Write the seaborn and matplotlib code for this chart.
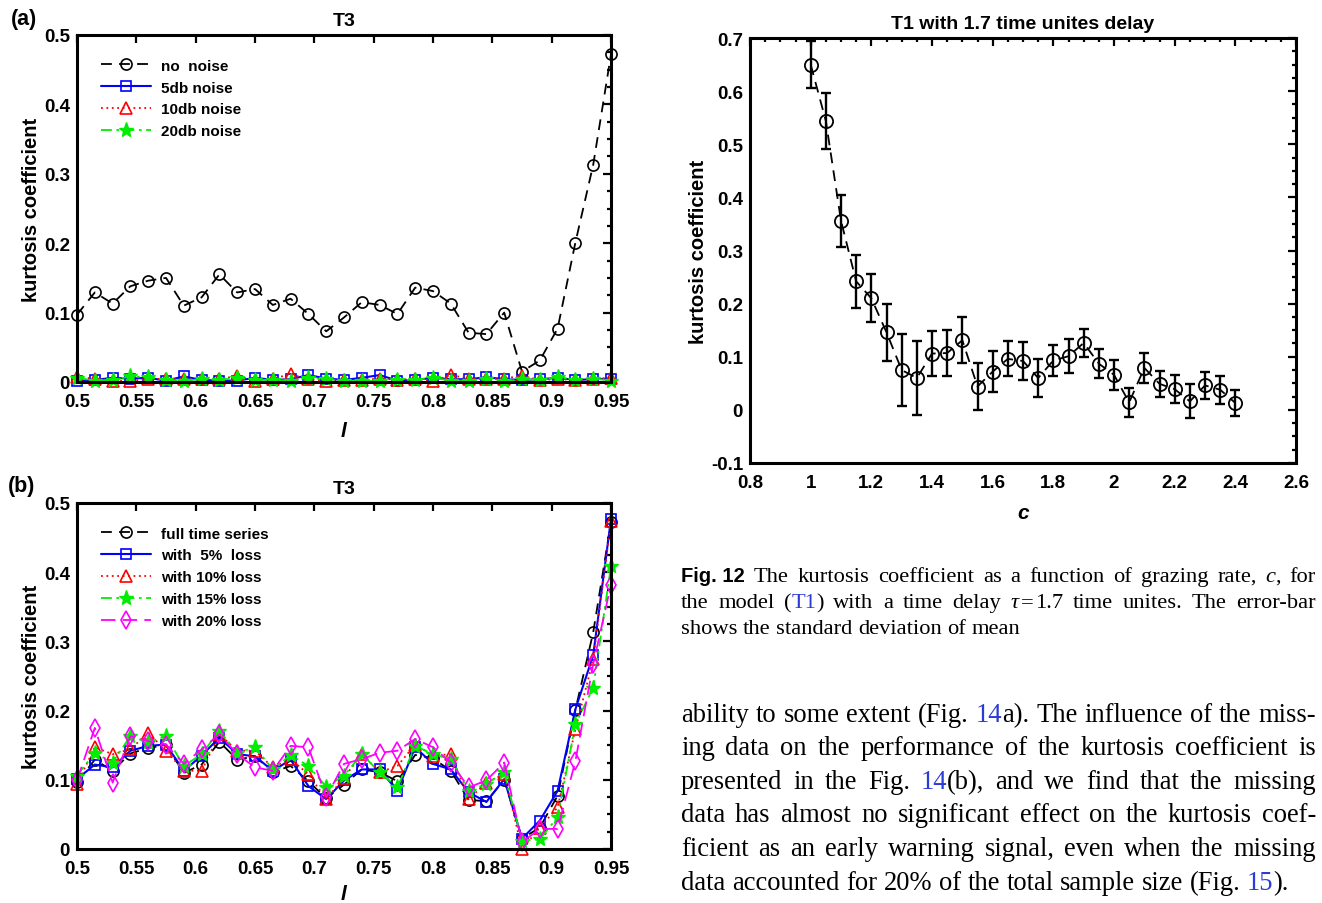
import numpy as np
import pandas as pd
import matplotlib
matplotlib.use("Agg")
import matplotlib.pyplot as plt
import seaborn as sns
from matplotlib.ticker import MultipleLocator, FuncFormatter
from matplotlib.transforms import IdentityTransform

# ---------------- data ----------------
l_vals = [0.5, 0.515, 0.53, 0.545, 0.56, 0.575, 0.59, 0.605, 0.62, 0.635,
          0.65, 0.665, 0.68, 0.695, 0.71, 0.725, 0.74, 0.755, 0.77, 0.785,
          0.8, 0.815, 0.83, 0.845, 0.86, 0.875, 0.89, 0.905, 0.92, 0.935, 0.95]

no_noise = [0.097, 0.129, 0.113, 0.138, 0.146, 0.150, 0.110, 0.122, 0.155, 0.129,
            0.134, 0.111, 0.120, 0.098, 0.073, 0.093, 0.115, 0.111, 0.098, 0.136,
            0.131, 0.113, 0.071, 0.069, 0.100, 0.015, 0.031, 0.077, 0.201, 0.313, 0.472]
noise_5db = [0.001, 0.003, 0.006, 0.005, 0.006, 0.002, 0.008, 0.003, 0.002, 0.002,
             0.006, 0.003, 0.004, 0.010, 0.005, 0.003, 0.006, 0.010, 0.002, 0.003,
             0.006, 0.004, 0.004, 0.007, 0.004, 0.003, 0.004, 0.006, 0.003, 0.004, 0.005]
noise_10db = [0.007, 0.005, 0.002, 0.001, 0.005, 0.004, 0.004, 0.004, 0.004, 0.009,
              0.002, 0.005, 0.011, 0.004, 0.002, 0.003, 0.003, 0.005, 0.003, 0.005,
              0.001, 0.010, 0.005, 0.004, 0.005, 0.009, 0.003, 0.004, 0.003, 0.004, 0.006]
noise_20db = [0.006, 0.002, 0.003, 0.008, 0.007, 0.003, 0.002, 0.004, 0.003, 0.006,
              0.003, 0.003, 0.002, 0.006, 0.004, 0.002, 0.001, 0.002, 0.003, 0.003,
              0.006, 0.002, 0.002, 0.004, 0.001, 0.004, 0.003, 0.007, 0.003, 0.005, 0.002]

full_series = no_noise
loss_5 = [0.101, 0.122, 0.118, 0.142, 0.149, 0.151, 0.113, 0.135, 0.161, 0.137,
          0.134, 0.113, 0.129, 0.091, 0.072, 0.099, 0.115, 0.115, 0.084, 0.147,
          0.123, 0.115, 0.082, 0.068, 0.101, 0.015, 0.041, 0.084, 0.202, 0.280, 0.477]
loss_10 = [0.094, 0.147, 0.137, 0.144, 0.168, 0.142, 0.113, 0.113, 0.166, 0.142,
           0.142, 0.118, 0.130, 0.108, 0.072, 0.103, 0.137, 0.111, 0.120, 0.151,
           0.135, 0.137, 0.072, 0.096, 0.108, 0.000, 0.031, 0.060, 0.173, 0.274, 0.474]
loss_15 = [0.106, 0.139, 0.125, 0.163, 0.154, 0.163, 0.120, 0.137, 0.171, 0.139,
           0.147, 0.115, 0.136, 0.120, 0.090, 0.106, 0.137, 0.111, 0.089, 0.149,
           0.137, 0.130, 0.084, 0.094, 0.111, 0.012, 0.014, 0.046, 0.180, 0.233, 0.409]
loss_20 = [0.099, 0.175, 0.096, 0.163, 0.156, 0.151, 0.123, 0.144, 0.166, 0.137,
           0.118, 0.113, 0.149, 0.147, 0.075, 0.123, 0.130, 0.139, 0.142, 0.159,
           0.147, 0.125, 0.089, 0.099, 0.125, 0.010, 0.029, 0.029, 0.127, 0.267, 0.382]

c_vals = [1.0, 1.05, 1.1, 1.15, 1.2, 1.25, 1.3, 1.35, 1.4, 1.45, 1.5, 1.55, 1.6,
          1.65, 1.7, 1.75, 1.8, 1.85, 1.9, 1.95, 2.0, 2.05, 2.1, 2.15, 2.2, 2.25,
          2.3, 2.35, 2.4]
kurt_c = [0.650, 0.544, 0.356, 0.242, 0.210, 0.146, 0.075, 0.060, 0.106, 0.107,
          0.131, 0.044, 0.072, 0.096, 0.092, 0.060, 0.093, 0.101, 0.126, 0.087,
          0.066, 0.014, 0.079, 0.049, 0.039, 0.016, 0.046, 0.038, 0.013]
kurt_err = [0.045, 0.052, 0.049, 0.050, 0.045, 0.054, 0.068, 0.070, 0.043, 0.043,
            0.043, 0.044, 0.039, 0.033, 0.035, 0.035, 0.029, 0.032, 0.027, 0.027,
            0.028, 0.028, 0.028, 0.025, 0.026, 0.032, 0.025, 0.026, 0.025]

legend_a = ["no  noise", "5db noise", "10db noise", "20db noise"]
legend_b = ["full time series", "with  5%  loss", "with 10% loss", "with 15% loss", "with 20% loss"]

# ---------------- style ----------------
sns.set_theme(style="white")
SANS = ['Liberation Sans', 'DejaVu Sans']
SERIF = ['Liberation Serif', 'DejaVu Serif']
plt.rcParams['font.family'] = SANS
plt.rcParams['font.weight'] = 'bold'
for k in ['text.color', 'axes.labelcolor', 'xtick.color', 'ytick.color', 'axes.edgecolor']:
    plt.rcParams[k] = 'black'

W, H = 1322, 904
fig = plt.figure(figsize=(W / 100, H / 100), dpi=100)
fig.patch.set_facecolor('white')

BLACK, BLUE, RED, GREEN, MAG = '#000000', '#0000ff', '#ff0000', '#00ee00', '#ff00ff'
styles = {
    'k': dict(color=BLACK, linestyle=(0, (6, 4)), marker='o', markerfacecolor='none',
              markeredgecolor=BLACK, markersize=8, markeredgewidth=1.2, linewidth=1.3),
    'b': dict(color=BLUE, linestyle='-', marker='s', markerfacecolor='none',
              markeredgecolor=BLUE, markersize=7.5, markeredgewidth=1.2, linewidth=1.5),
    'r': dict(color=RED, linestyle=(0, (1, 2)), marker='^', markerfacecolor='none',
              markeredgecolor=RED, markersize=9, markeredgewidth=1.2, linewidth=1.3),
    'g': dict(color=GREEN, linestyle=(0, (6, 2.5, 1.5, 2.5)), marker='*', markerfacecolor=GREEN,
              markeredgecolor=GREEN, markersize=11, markeredgewidth=1.0, linewidth=1.3),
    'm': dict(color=MAG, linestyle=(0, (8, 4)), marker='d', markerfacecolor='none',
              markeredgecolor=MAG, markersize=9, markeredgewidth=1.2, linewidth=1.3),
}


def style_axes(ax, xmaj, xmin, ymaj, ymin):
    for s in ax.spines.values():
        s.set_linewidth(2.2)
        s.set_color('black')
        s.set_visible(True)
    ax.xaxis.set_major_locator(MultipleLocator(xmaj))
    ax.yaxis.set_major_locator(MultipleLocator(ymaj))
    if xmin:
        ax.xaxis.set_minor_locator(MultipleLocator(xmin))
    if ymin:
        ax.yaxis.set_minor_locator(MultipleLocator(ymin))
    fmt = FuncFormatter(lambda v, p: ('%g' % round(v, 4)))
    ax.xaxis.set_major_formatter(fmt)
    ax.yaxis.set_major_formatter(fmt)
    ax.tick_params(which='both', direction='in', top=True, right=True, width=1.6,
                   labelsize=13.5)
    ax.tick_params(axis='x', pad=8)
    ax.tick_params(axis='y', pad=5)
    ax.tick_params(which='major', length=6)
    ax.tick_params(which='minor', length=3)
    ax.grid(False)
    ax.set_facecolor('white')


def draw_panel(ax, series, labels, keys, xlab_y):
    for vals, lab, k in zip(series, labels, keys):
        sns.lineplot(x=l_vals, y=vals, ax=ax, label=lab, clip_on=False, **styles[k])
    ax.set_xlim(0.5, 0.95)
    ax.set_ylim(0, 0.5)
    style_axes(ax, 0.05, None, 0.1, 0.025)
    ax.set_title('T3', fontsize=14, fontweight='bold', pad=7)
    ax.set_xlabel('l', fontsize=15, fontweight='bold', fontstyle='italic')
    ax.set_ylabel('kurtosis coefficient', fontsize=14.5, fontweight='bold')
    ax.xaxis.set_label_coords(0.5, xlab_y)
    ax.yaxis.set_label_coords(-0.068, 0.5)
    ax.legend(loc='upper left', bbox_to_anchor=(0.045, 0.932), frameon=False,
              prop={'weight': 'bold', 'size': 11, 'family': SANS},
              handlelength=3.3, handletextpad=0.6, labelspacing=0.52,
              borderpad=0, borderaxespad=0)


# panel (a)
ax_a = fig.add_axes([77 / W, 1 - 383 / H, 534 / W, 347 / H])
draw_panel(ax_a, [no_noise, noise_5db, noise_10db, noise_20db], legend_a,
           ['k', 'b', 'r', 'g'], -0.112)

# panel (b)
ax_b = fig.add_axes([77 / W, 1 - 850 / H, 534 / W, 346 / H])
draw_panel(ax_b, [full_series, loss_5, loss_10, loss_15, loss_20], legend_b,
           ['k', 'b', 'r', 'g', 'm'], -0.1)

fig.text(24 / W, 1 - 19 / H, '(a)', fontsize=15.5, fontweight='bold', ha='center', va='center')
fig.text(22 / W, 1 - 487 / H, '(b)', fontsize=15.5, fontweight='bold', ha='center', va='center')

# right panel
ax_c = fig.add_axes([750 / W, 1 - 464 / H, 546 / W, 425 / H])
sns.lineplot(x=c_vals, y=kurt_c, ax=ax_c, color=BLACK, linestyle=(0, (6, 4)), marker='o',
             markerfacecolor='none', markeredgecolor=BLACK, markersize=9.5,
             markeredgewidth=1.3, linewidth=1.3, zorder=3)
ax_c.errorbar(c_vals, kurt_c, yerr=kurt_err, fmt='none', ecolor=BLACK, elinewidth=1.7,
              capsize=3.5, capthick=1.7, zorder=2)
ax_c.set_xlim(0.8, 2.6)
ax_c.set_ylim(-0.1, 0.7)
style_axes(ax_c, 0.2, 0.05, 0.1, 0.025)
ax_c.set_title('T1 with 1.7 time unites delay', fontsize=14, fontweight='bold', pad=7)
ax_c.set_xlabel('c', fontsize=15, fontweight='bold', fontstyle='italic')
ax_c.set_ylabel('kurtosis coefficient', fontsize=14.5, fontweight='bold')
ax_c.xaxis.set_label_coords(0.5, -0.095)
ax_c.yaxis.set_label_coords(-0.077, 0.5)

# ---------------- caption and body text ----------------
renderer = fig.canvas.get_renderer()
LINK = '#2b3bd6'


def S(text, **kw):
    return (text, kw)


def place_line(words, x0, x1, baseline_px, base, justify=True):
    y = H - baseline_px
    placed = []
    total = 0.0
    for word in words:
        segs = []
        for txt, kw in word:
            props = dict(base)
            kw = dict(kw)
            gap = kw.pop('gap', 0.0)
            props.update(kw)
            t = fig.text(0, y, txt, transform=IdentityTransform(), ha='left', va='baseline', **props)
            w = t.get_window_extent(renderer).width
            segs.append((t, w, gap))
            total += w + gap
        placed.append(segs)
    a = fig.text(0, 0, 'n n', transform=IdentityTransform(), **base)
    b = fig.text(0, 0, 'nn', transform=IdentityTransform(), **base)
    sp = a.get_window_extent(renderer).width - b.get_window_extent(renderer).width
    a.remove(); b.remove()
    n = len(placed)
    if justify and n > 1:
        gap_w = (x1 - x0 - total) / (n - 1)
    else:
        gap_w = sp
    x = x0
    for segs in placed:
        for t, w, g in segs:
            x += g
            t.set_x(x)
            x += w
        x += gap_w


def words_of(text):
    return [[S(w)] for w in text.split()]


cap = dict(fontsize=16.2, family=SERIF, fontweight='normal', color='black')
X0, X1 = 681, 1316
line1 = [[S('Fig. 12', family=SANS, fontweight='bold', fontsize=14.5)]] + \
    words_of('The kurtosis coefficient as a function of grazing rate,') + \
    [[S('c', fontstyle='italic'), S(',')]] + words_of('for')
place_line(line1, X0, X1, 582, cap)
line2 = words_of('the model') + [[S('('), S('T1', color=LINK), S(')')]] + \
    words_of('with a time delay') + \
    [[S('τ', fontstyle='italic'), S('=', gap=2), S('1.7', gap=2)]] + \
    words_of('time unites. The error-bar')
place_line(line2, X0, X1, 608, cap)
place_line(words_of('shows the standard deviation of mean'), X0, X1, 634, cap, justify=False)

body = dict(fontsize=19.1, family=SERIF, fontweight='normal', color='black')
b1 = words_of('ability to some extent (Fig.') + [[S('14', color=LINK), S('a).')]] + \
    words_of('The influence of the miss-')
place_line(b1, X0, X1, 722, body)
place_line(words_of('ing data on the performance of the kurtosis coefficient is'), X0, X1, 755, body)
b3 = words_of('presented in the Fig.') + [[S('14', color=LINK), S('(b),')]] + \
    words_of('and we find that the missing')
place_line(b3, X0, X1, 789, body)
place_line(words_of('data has almost no significant effect on the kurtosis coef-'), X0, X1, 822, body)
place_line(words_of('ficient as an early warning signal, even when the missing'), X0, X1, 856, body)
b6 = words_of('data accounted for 20% of the total sample size (Fig.') + \
    [[S('15', color=LINK), S(').')]]
place_line(b6, X0, X1, 890, body, justify=False)

fig.savefig('out.png', dpi=100)
